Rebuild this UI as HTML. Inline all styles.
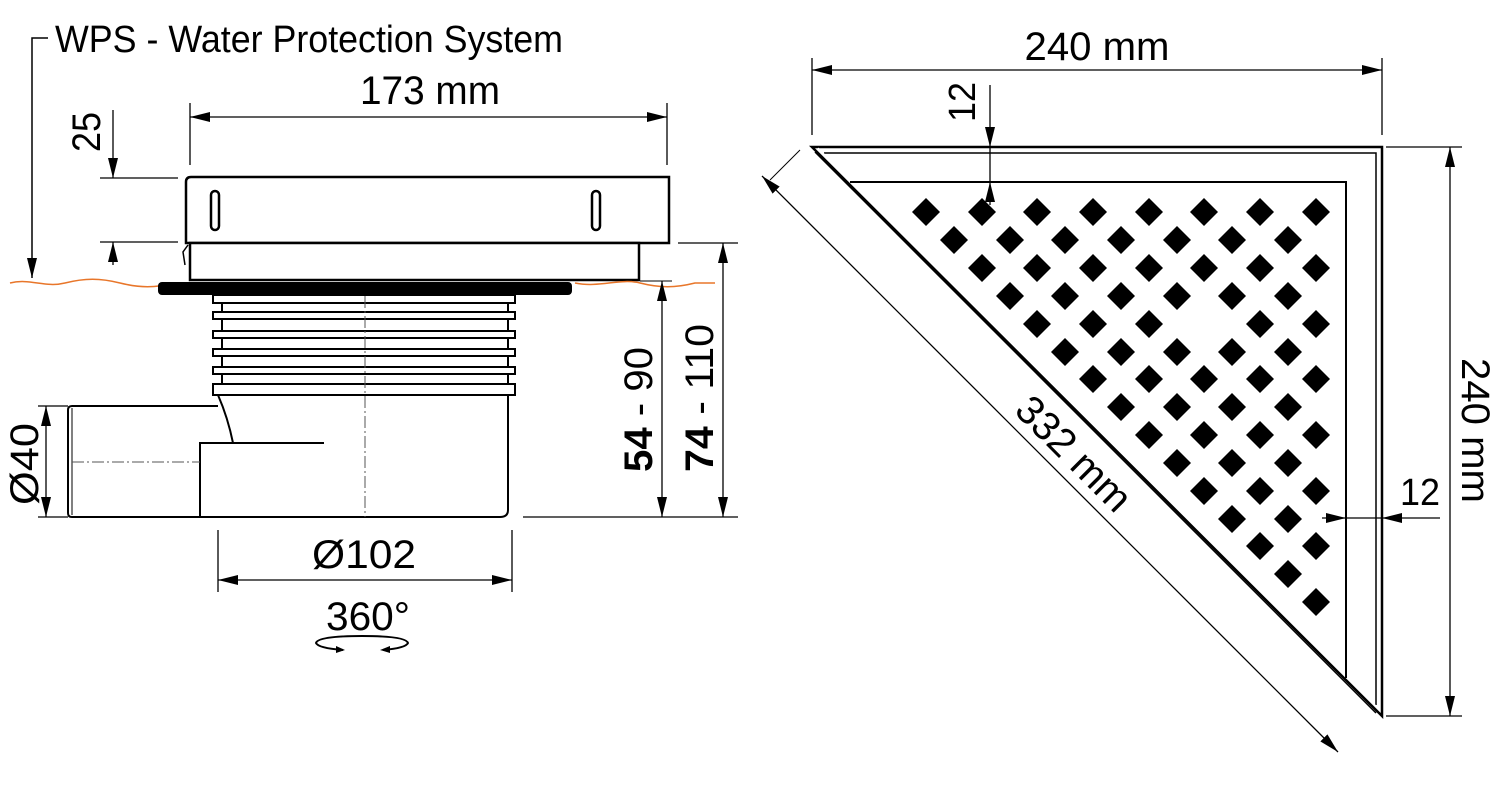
<!DOCTYPE html>
<html><head><meta charset="utf-8"><style>
html,body{margin:0;padding:0;background:#fff;}
svg{display:block;}
text{font-family:"Liberation Sans",sans-serif;fill:#000;}
</style></head><body>
<svg width="1500" height="800" viewBox="0 0 1500 800" xmlns="http://www.w3.org/2000/svg">
<defs>
<path id="d" d="M0,-14 L14,0 L0,14 L-14,0 Z" fill="#000"/>
<marker id="a" viewBox="0 0 20 10" refX="20" refY="5" markerWidth="20" markerHeight="10" markerUnits="userSpaceOnUse" orient="auto-start-reverse"><path d="M0,0 L20,5 L0,10 Z" fill="#000"/></marker>
</defs>

<!-- ============ LEFT DRAWING ============ -->
<text x="55" y="52" font-size="38" textLength="508" lengthAdjust="spacingAndGlyphs">WPS - Water Protection System</text>
<path d="M48,38 H32 V278" fill="none" stroke="#000" stroke-width="1.5" marker-end="url(#a)"/>

<!-- 173 mm -->
<line x1="190" y1="103" x2="190" y2="165" stroke="#000" stroke-width="1.3"/>
<line x1="667" y1="103" x2="667" y2="165" stroke="#000" stroke-width="1.3"/>
<line x1="190" y1="117" x2="667" y2="117" stroke="#000" stroke-width="1.3" marker-start="url(#a)" marker-end="url(#a)"/>
<text x="430" y="104" font-size="40" text-anchor="middle" textLength="140" lengthAdjust="spacingAndGlyphs">173 mm</text>

<!-- 25 -->
<line x1="100" y1="178" x2="178" y2="178" stroke="#000" stroke-width="1.3"/>
<line x1="100" y1="242" x2="178" y2="242" stroke="#000" stroke-width="1.3"/>
<line x1="113" y1="110" x2="113" y2="178" stroke="#000" stroke-width="1.3" marker-end="url(#a)"/>
<line x1="113" y1="265" x2="113" y2="242" stroke="#000" stroke-width="1.3" marker-end="url(#a)"/>
<text transform="translate(100,152) rotate(-90)" font-size="40" textLength="40" lengthAdjust="spacingAndGlyphs">25</text>

<!-- grate top -->
<path d="M186,243 V182 Q186,177 191,177 H669 V243 Z" fill="#fff" stroke="#000" stroke-width="2.5"/>
<rect x="211" y="191" width="8" height="39" rx="4" fill="none" stroke="#000" stroke-width="2.5"/>
<rect x="592" y="191" width="8" height="39" rx="4" fill="none" stroke="#000" stroke-width="2.5"/>
<!-- lower frame -->
<rect x="190" y="243" width="449" height="37" fill="#fff" stroke="#000" stroke-width="2.5"/>
<path d="M188,245 L183,252 L185,265" fill="none" stroke="#000" stroke-width="1.5"/>

<!-- orange wavy line -->
<path d="M10,283 C30,278 45,288 65,283 S100,278 120,283 S155,288 175,283 L190,283 M575,283 C600,288 620,278 640,283 S675,288 695,283 L715,283" fill="none" stroke="#e8762a" stroke-width="1.5"/>

<!-- flange -->
<rect x="158" y="282" width="414" height="13" rx="4" fill="#000"/>

<!-- ribbed body -->
<rect x="213" y="295" width="302" height="8" fill="#fff" stroke="#000" stroke-width="2"/>
<line x1="222" y1="303" x2="222" y2="395" stroke="#000" stroke-width="2"/>
<line x1="508" y1="303" x2="508" y2="395" stroke="#000" stroke-width="2"/>
<rect x="213" y="312" width="302" height="7" fill="#fff" stroke="#000" stroke-width="2"/>
<rect x="213" y="331" width="302" height="7" fill="#fff" stroke="#000" stroke-width="2"/>
<rect x="213" y="349" width="302" height="7" fill="#fff" stroke="#000" stroke-width="2"/>
<rect x="213" y="367" width="302" height="7" fill="#fff" stroke="#000" stroke-width="2"/>
<rect x="213" y="384" width="302" height="11" fill="#fff" stroke="#000" stroke-width="2"/>
<!-- body -->
<path d="M508,395 V510 Q508,517 500,517 H200" fill="none" stroke="#000" stroke-width="2"/>
<path d="M218,395 Q228,418 233,443" fill="none" stroke="#000" stroke-width="2"/>
<path d="M200,517 V443 H324" fill="none" stroke="#000" stroke-width="2"/>
<!-- side pipe -->
<path d="M218,406 H72 Q68,406 68,410 V513 Q68,517 72,517 H200" fill="none" stroke="#000" stroke-width="2"/>
<line x1="72" y1="408" x2="72" y2="515" stroke="#000" stroke-width="1"/>
<!-- centerlines -->
<line x1="365" y1="296" x2="365" y2="517" stroke="#555" stroke-width="1" stroke-dasharray="12,3,2,3"/>
<line x1="72" y1="462" x2="200" y2="462" stroke="#555" stroke-width="1" stroke-dasharray="12,3,2,3"/>

<!-- Ø40 -->
<line x1="38" y1="406" x2="68" y2="406" stroke="#000" stroke-width="1.3"/>
<line x1="38" y1="517" x2="68" y2="517" stroke="#000" stroke-width="1.3"/>
<line x1="46" y1="406" x2="46" y2="517" stroke="#000" stroke-width="1.3" marker-start="url(#a)" marker-end="url(#a)"/>
<text transform="translate(38,505) rotate(-90)" font-size="40" textLength="82" lengthAdjust="spacingAndGlyphs">Ø40</text>

<!-- right dims -->
<line x1="678" y1="243" x2="738" y2="243" stroke="#000" stroke-width="1.3"/>
<line x1="523" y1="517" x2="738" y2="517" stroke="#000" stroke-width="1.3"/>
<line x1="640" y1="281" x2="672" y2="281" stroke="#000" stroke-width="1"/>
<line x1="662" y1="281" x2="662" y2="517" stroke="#000" stroke-width="1.3" marker-start="url(#a)" marker-end="url(#a)"/>
<line x1="723" y1="243" x2="723" y2="517" stroke="#000" stroke-width="1.3" marker-start="url(#a)" marker-end="url(#a)"/>
<text transform="translate(652,472) rotate(-90)" font-size="40" textLength="125" lengthAdjust="spacingAndGlyphs"><tspan font-weight="bold">54</tspan> - 90</text>
<text transform="translate(713,472) rotate(-90)" font-size="40" textLength="148" lengthAdjust="spacingAndGlyphs"><tspan font-weight="bold">74</tspan> - 110</text>

<!-- Ø102 -->
<line x1="218" y1="530" x2="218" y2="592" stroke="#000" stroke-width="1.3"/>
<line x1="512" y1="530" x2="512" y2="592" stroke="#000" stroke-width="1.3"/>
<line x1="218" y1="580" x2="512" y2="580" stroke="#000" stroke-width="1.3" marker-start="url(#a)" marker-end="url(#a)"/>
<text x="364" y="568" font-size="40" text-anchor="middle" textLength="104" lengthAdjust="spacingAndGlyphs">Ø102</text>
<text x="368" y="630" font-size="40" text-anchor="middle" textLength="84" lengthAdjust="spacingAndGlyphs">360°</text>
<path d="M343,650 Q318,648 316,643 Q318,636 362,636 Q406,636 408,643 Q406,648 383,650" fill="none" stroke="#000" stroke-width="2"/>
<path d="M336,646 L345,650 L336,653 Z" fill="#000"/>
<path d="M390,646 L380,650 L390,653 Z" fill="#000"/>

<!-- ============ RIGHT DRAWING ============ -->
<line x1="812" y1="58" x2="812" y2="135" stroke="#000" stroke-width="1.3"/>
<line x1="1382" y1="58" x2="1382" y2="135" stroke="#000" stroke-width="1.3"/>
<line x1="812" y1="70" x2="1382" y2="70" stroke="#000" stroke-width="1.3" marker-start="url(#a)" marker-end="url(#a)"/>
<text x="1097" y="60" font-size="40" text-anchor="middle" textLength="145" lengthAdjust="spacingAndGlyphs">240 mm</text>

<line x1="1386" y1="147" x2="1462" y2="147" stroke="#000" stroke-width="1.3"/>
<line x1="1386" y1="716" x2="1462" y2="716" stroke="#000" stroke-width="1.3"/>
<line x1="1450" y1="147" x2="1450" y2="716" stroke="#000" stroke-width="1.3" marker-start="url(#a)" marker-end="url(#a)"/>
<text transform="translate(1462,358) rotate(90)" font-size="40" textLength="145" lengthAdjust="spacingAndGlyphs">240 mm</text>

<path d="M812,147 H1382 V716 Z" fill="#fff" stroke="#000" stroke-width="2.5"/>
<path d="M824,153 H1376 V705" fill="none" stroke="#000" stroke-width="1.5"/>
<line x1="815" y1="152" x2="1376" y2="713" stroke="#000" stroke-width="1.5"/>
<line x1="818" y1="148" x2="1379" y2="709" stroke="#fff" stroke-width="1.2"/>
<path d="M850,182 H1346 V678" fill="none" stroke="#000" stroke-width="2"/>

<g>
<use href="#d" x="926" y="212"/><use href="#d" x="982" y="212"/><use href="#d" x="1037" y="212"/><use href="#d" x="1093" y="212"/><use href="#d" x="1149" y="212"/><use href="#d" x="1204" y="212"/><use href="#d" x="1260" y="212"/><use href="#d" x="1316" y="212"/>
<use href="#d" x="954" y="240"/><use href="#d" x="1010" y="240"/><use href="#d" x="1065" y="240"/><use href="#d" x="1121" y="240"/><use href="#d" x="1177" y="240"/><use href="#d" x="1232" y="240"/><use href="#d" x="1288" y="240"/>
<use href="#d" x="982" y="268"/><use href="#d" x="1037" y="268"/><use href="#d" x="1093" y="268"/><use href="#d" x="1149" y="268"/><use href="#d" x="1204" y="268"/><use href="#d" x="1260" y="268"/><use href="#d" x="1316" y="268"/>
<use href="#d" x="1010" y="296"/><use href="#d" x="1065" y="296"/><use href="#d" x="1121" y="296"/><use href="#d" x="1177" y="296"/><use href="#d" x="1232" y="296"/><use href="#d" x="1288" y="296"/>
<use href="#d" x="1037" y="324"/><use href="#d" x="1093" y="324"/><use href="#d" x="1149" y="324"/><use href="#d" x="1260" y="324"/><use href="#d" x="1316" y="324"/>
<use href="#d" x="1065" y="352"/><use href="#d" x="1121" y="352"/><use href="#d" x="1177" y="352"/><use href="#d" x="1232" y="352"/><use href="#d" x="1288" y="352"/>
<use href="#d" x="1093" y="379"/><use href="#d" x="1149" y="379"/><use href="#d" x="1204" y="379"/><use href="#d" x="1260" y="379"/><use href="#d" x="1316" y="379"/>
<use href="#d" x="1121" y="407"/><use href="#d" x="1177" y="407"/><use href="#d" x="1232" y="407"/><use href="#d" x="1288" y="407"/>
<use href="#d" x="1149" y="435"/><use href="#d" x="1204" y="435"/><use href="#d" x="1260" y="435"/><use href="#d" x="1316" y="435"/>
<use href="#d" x="1177" y="463"/><use href="#d" x="1232" y="463"/><use href="#d" x="1288" y="463"/>
<use href="#d" x="1204" y="491"/><use href="#d" x="1260" y="491"/><use href="#d" x="1316" y="491"/>
<use href="#d" x="1232" y="519"/><use href="#d" x="1288" y="519"/>
<use href="#d" x="1260" y="546"/><use href="#d" x="1316" y="546"/>
<use href="#d" x="1288" y="574"/>
<use href="#d" x="1316" y="602"/>
</g>

<line x1="990" y1="85" x2="990" y2="147" stroke="#000" stroke-width="1.3" marker-end="url(#a)"/>
<line x1="990" y1="147" x2="990" y2="182" stroke="#000" stroke-width="1.3"/>
<line x1="990" y1="205" x2="990" y2="182" stroke="#000" stroke-width="1.3" marker-end="url(#a)"/>
<text transform="translate(975,122) rotate(-90)" font-size="38" textLength="40" lengthAdjust="spacingAndGlyphs">12</text>

<line x1="1322" y1="518" x2="1346" y2="518" stroke="#000" stroke-width="1.3" marker-end="url(#a)"/>
<line x1="1346" y1="518" x2="1382" y2="518" stroke="#000" stroke-width="1.3"/>
<line x1="1440" y1="518" x2="1382" y2="518" stroke="#000" stroke-width="1.3" marker-end="url(#a)"/>
<text x="1400" y="505" font-size="38" textLength="40" lengthAdjust="spacingAndGlyphs">12</text>

<line x1="762" y1="176" x2="1338" y2="752" stroke="#000" stroke-width="1.3" marker-start="url(#a)" marker-end="url(#a)"/>
<line x1="800" y1="150" x2="770" y2="180" stroke="#000" stroke-width="1"/>
<text transform="translate(1013,412) rotate(45)" font-size="40" textLength="145" lengthAdjust="spacingAndGlyphs">332 mm</text>
</svg>
</body></html>
